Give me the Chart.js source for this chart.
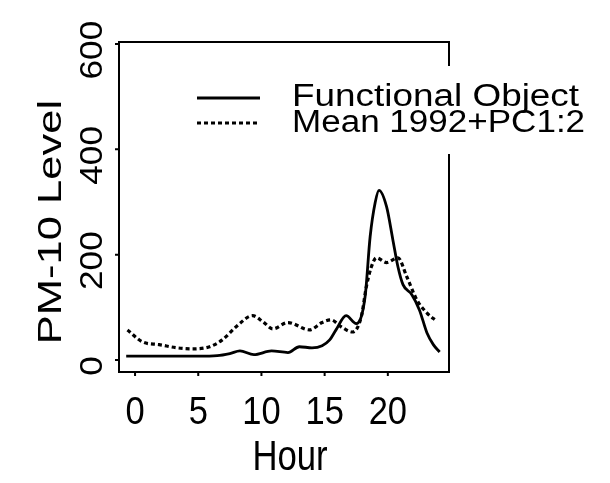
<!DOCTYPE html>
<html>
<head>
<meta charset="utf-8">
<script src="https://cdn.jsdelivr.net/npm/chart.js@4/dist/chart.umd.min.js"></script>
<style>
  html, body { margin: 0; padding: 0; background: #fff; }
  #wrap { width: 610px; height: 483px; }
</style>
</head>
<body>
<div id="wrap"><canvas id="chart"></canvas></div>
<script>
// hourly PM-10 curves
const objHours = [-0.7, 1, 3, 5, 6.5, 7.5, 8.3, 9.4, 10.8, 12.1, 13, 14, 14.8, 15.4, 15.9, 16.7, 17.5, 18.2, 18.6, 19, 19.3, 19.9, 20.4, 20.8, 21.2, 21.9, 22.5, 23.1, 23.6, 24.1]
const objLevel = [7, 7, 7, 7, 8, 12, 17, 10, 17, 14, 25, 23, 27, 38, 57, 84, 69, 120, 234, 299, 322, 291, 228, 177, 143, 124, 95, 51, 29, 15]

const meanHours = [-0.6, 0.6, 1.9, 3.3, 4.5, 5.9, 6.9, 8, 9.3, 10.1, 10.9, 12.1, 13.8, 14.8, 15.5, 16.3, 17.2, 17.9, 18.3, 18.7, 19.1, 19.9, 20.8, 21.5, 22.3, 23.1, 23.9]
const meanLevel = [57, 34, 29, 23, 21, 25, 38, 63, 84, 73, 59, 71, 57, 71, 76, 63, 53, 82, 139, 177, 194, 185, 194, 158, 114, 89, 73]

const xTicks = [0, 5, 10, 15, 20]
const yTicks = [0, 200, 400, 600]
const seriesNames = ['Functional Object', 'Mean 1992+PC1:2']
const xTitle = 'Hour'
const yTitle = 'PM-10 Level'

const toPoints = (xs, ys) => xs.map((x, i) => ({ x: x, y: ys[i] }))

function stretchText(ctx, text, x, y, angle, sx, sy) {
  ctx.save()
  ctx.translate(x, y)
  ctx.rotate(angle)
  ctx.scale(sx, sy)
  ctx.fillText(text, 0, 0)
  ctx.restore()
}

// R-style box, ticks, labels and legend
const rAxes = {
  id: 'rAxes',
  afterDraw(chart) {
    const ctx = chart.ctx
    const a = chart.chartArea
    const xs = chart.scales.x
    const ys = chart.scales.y
    const font = 'Liberation Sans, Arial, Helvetica, sans-serif'

    ctx.save()
    ctx.strokeStyle = '#000'
    ctx.fillStyle = '#000'
    ctx.lineWidth = 2
    ctx.setLineDash([])
    ctx.strokeRect(a.left, a.top, a.right - a.left, a.bottom - a.top)

    // tick marks
    ctx.beginPath()
    for (const t of xTicks) {
      const px = xs.getPixelForValue(t)
      ctx.moveTo(px, a.bottom)
      ctx.lineTo(px, a.bottom + 4)
    }
    for (const t of yTicks) {
      const py = ys.getPixelForValue(t)
      ctx.moveTo(a.left, py)
      ctx.lineTo(a.left - 4, py)
    }
    ctx.stroke()

    // tick labels
    ctx.font = '30px ' + font
    ctx.textAlign = 'center'
    ctx.textBaseline = 'alphabetic'
    for (const t of xTicks) {
      stretchText(ctx, String(t), xs.getPixelForValue(t), a.bottom + 52, 0, 1.15, 1.3)
    }
    ctx.font = '32px ' + font
    for (const t of yTicks) {
      stretchText(ctx, String(t), a.left - 17, ys.getPixelForValue(t) + 6, -Math.PI / 2, 1.1, 1)
    }

    // axis titles
    ctx.font = '34px ' + font
    stretchText(ctx, xTitle, 290, 470, 0, 1.02, 1.25)
    stretchText(ctx, yTitle, 61, 222, -Math.PI / 2, 1.28, 1)

    // legend (white background hides the box edge)
    ctx.fillStyle = '#fff'
    ctx.fillRect(190, 66, 410, 88)
    ctx.fillStyle = '#000'
    ctx.lineWidth = 2.8
    ctx.beginPath()
    ctx.moveTo(197, 98)
    ctx.lineTo(260, 98)
    ctx.stroke()
    ctx.lineWidth = 3.2
    ctx.setLineDash([4, 3])
    ctx.beginPath()
    ctx.moveTo(197, 123)
    ctx.lineTo(260, 123)
    ctx.stroke()
    ctx.setLineDash([])
    ctx.font = '31px ' + font
    ctx.textAlign = 'left'
    stretchText(ctx, seriesNames[0], 292, 106, 0, 1.19, 1)
    stretchText(ctx, seriesNames[1], 292, 132, 0, 1.13, 1)
    ctx.restore()
  }
}

const chart = new Chart(document.getElementById('chart'), {
  type: 'line',
  data: {
    datasets: [
      {
        label: seriesNames[0],
        data: toPoints(objHours, objLevel),
        borderColor: '#000',
        borderWidth: 2.8,
        pointRadius: 0,
        cubicInterpolationMode: 'monotone',
        fill: false,
      },
      {
        label: seriesNames[1],
        data: toPoints(meanHours, meanLevel),
        borderColor: '#000',
        borderWidth: 3.2,
        borderDash: [4, 3],
        pointRadius: 0,
        cubicInterpolationMode: 'monotone',
        fill: false,
      },
    ],
  },
  options: {
    responsive: true,
    maintainAspectRatio: false,
    animation: false,
    layout: { padding: { left: 119, top: 42, right: 161, bottom: 111 } },
    plugins: { legend: { display: false }, tooltip: { enabled: false } },
    scales: {
      x: { type: 'linear', display: false, min: -1.27, max: 24.84 },
      y: { type: 'linear', display: false, min: -23, max: 604 },
    },
  },
  plugins: [rAxes],
})
</script>
</body>
</html>
